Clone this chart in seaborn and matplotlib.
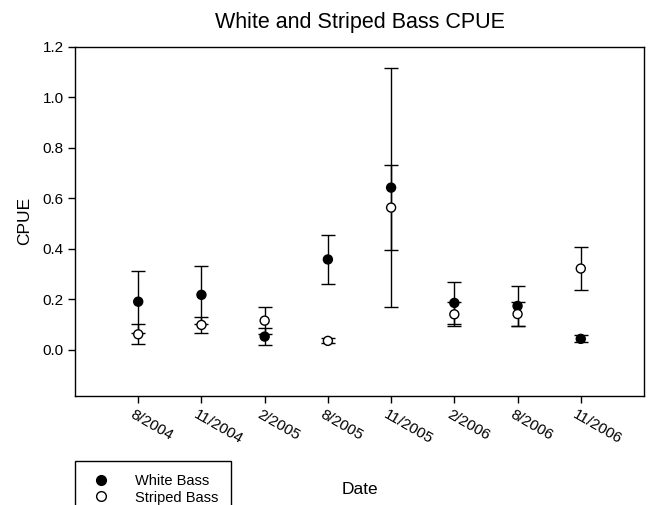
import numpy as np
import pandas as pd
import matplotlib
matplotlib.use("Agg")
import matplotlib.pyplot as plt
import matplotlib.transforms as mtransforms
from matplotlib.lines import Line2D
import seaborn as sns

# ---- data ----
dates = ["8/2004", "11/2004", "2/2005", "8/2005", "11/2005", "2/2006", "8/2006", "11/2006"]
white_bass = [0.191, 0.218, 0.053, 0.358, 0.642, 0.186, 0.174, 0.044]
white_err = [0.122, 0.116, 0.032, 0.098, 0.472, 0.083, 0.079, 0.014]
striped_bass = [0.062, 0.099, 0.116, 0.036, 0.563, 0.141, 0.142, 0.322]
striped_err = [0.040, 0.033, 0.053, 0.010, 0.169, 0.048, 0.047, 0.084]
y_ticks = [0.0, 0.2, 0.4, 0.6, 0.8, 1.0, 1.2]

sns.set_theme(style="ticks")
plt.rcParams["font.family"] = ["Liberation Sans", "DejaVu Sans"]
plt.rcParams.update({"text.color": "black", "axes.labelcolor": "black",
                     "xtick.color": "black", "ytick.color": "black"})

df = pd.DataFrame({
    "Date": dates * 2,
    "pos": list(range(len(dates))) * 2,
    "CPUE": white_bass + striped_bass,
    "err": white_err + striped_err,
    "Species": ["White Bass"] * len(dates) + ["Striped Bass"] * len(dates),
})

fig = plt.figure(figsize=(6.49, 5.05), dpi=100)
ax = fig.add_axes([75 / 649, 1 - 396 / 505, (644 - 75) / 649, (396 - 46.5) / 505])

# error bars
for sp in ["White Bass", "Striped Bass"]:
    d = df[df["Species"] == sp]
    ax.errorbar(d["pos"], d["CPUE"], yerr=d["err"], fmt="none", ecolor="black",
                elinewidth=1.0, capsize=5, capthick=1.0, zorder=2)

# markers
sns.scatterplot(data=df, x="pos", y="CPUE", hue="Species",
                palette={"White Bass": "black", "Striped Bass": "white"},
                edgecolor="black", linewidth=1.0, s=42, legend=False, ax=ax, zorder=3)

ax.set_xlim(-1, 8)
ax.set_ylim(-0.182, 1.2)
ax.tick_params(direction="out", length=5, width=1, color="black", pad=3)
ax.set_xticks(range(len(dates)))
ax.set_xticklabels(dates, rotation=-30, ha="left", va="top", fontsize=11)
ax.set_yticks(y_ticks)
ax.set_yticklabels([f"{v:.1f}" for v in y_ticks], fontsize=11)
offset = mtransforms.ScaledTranslation(-10 / 100, 0, fig.dpi_scale_trans)
for lbl in ax.xaxis.get_majorticklabels():
    lbl.set_transform(lbl.get_transform() + offset)

for s in ax.spines.values():
    s.set_visible(True)
    s.set_color("black")
    s.set_linewidth(1.0)

ax.set_xlabel("Date", fontsize=12.5, labelpad=0)
ax.xaxis.set_label_coords(0.5, -0.245)
ax.set_ylabel("CPUE", fontsize=12.5, labelpad=8)
ax.set_title("White and Striped Bass CPUE", fontsize=15.5, pad=13)

handles = [
    Line2D([], [], marker="o", color="none", markerfacecolor="black", markeredgecolor="black", markersize=7),
    Line2D([], [], marker="o", color="none", markerfacecolor="white", markeredgecolor="black", markersize=7),
]
leg = fig.legend(handles, ["White Bass", "Striped Bass"], loc="upper left",
                 bbox_to_anchor=(75 / 649, 1 - 460.5 / 505), fontsize=10.5,
                 frameon=True, fancybox=False, framealpha=1, edgecolor="black",
                 borderpad=0.9, handletextpad=1.4, labelspacing=0.2, handlelength=1.8,
                 borderaxespad=0)
leg.get_frame().set_linewidth(1.0)

fig.savefig("out.png", dpi=100)
